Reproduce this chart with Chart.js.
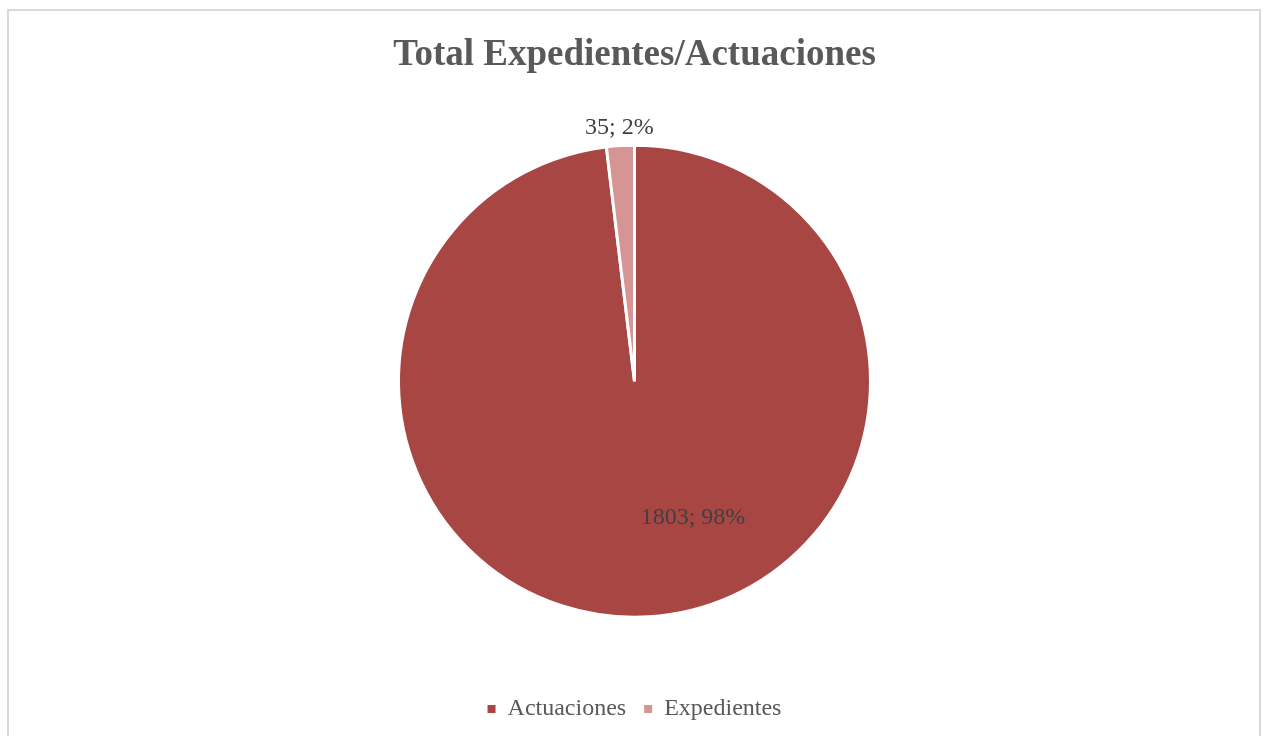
<!DOCTYPE html>
<html>
<head>
<meta charset="utf-8">
<script src="https://cdn.jsdelivr.net/npm/chart.js@4/dist/chart.umd.min.js"></script>
<style>
  html, body { margin: 0; padding: 0; background: #ffffff; overflow: hidden; }
  #frame { position: absolute; left: 7px; top: 9px; width: 1250px; height: 800px;
           border: 2px solid #D9D9D9; border-bottom: none; }
  #c { position: absolute; left: 0; top: 0; }
</style>
</head>
<body>
<div id="frame"></div>
<canvas id="c" width="1269" height="736"></canvas>
<script>
const categories = ["Actuaciones", "Expedientes"];
const values = [1803, 35];
const percentLabels = ["98%", "2%"];
const sliceColors = ["#A84644", "#D49594"];
const titleText = "Total Expedientes/Actuaciones";

const labelPlugin = {
  id: "sliceLabels",
  afterDatasetsDraw(chart) {
    const ctx = chart.ctx;
    const meta = chart.getDatasetMeta(0);
    ctx.save();
    ctx.font = "24px 'Liberation Serif', 'Times New Roman', serif";
    ctx.fillStyle = "#404040";
    ctx.textBaseline = "middle";
    meta.data.forEach((arc, i) => {
      const p = arc.getProps(["x", "y", "startAngle", "endAngle", "outerRadius"], true);
      const mid = (p.startAngle + p.endAngle) / 2;
      const text = values[i] + "; " + percentLabels[i];
      const frac = (p.endAngle - p.startAngle) / (2 * Math.PI);
      if (frac > 0.5) {
        const r = p.outerRadius * 0.58;
        ctx.textAlign = "left";
        ctx.fillText(text, p.x + r * Math.cos(mid) - 2, p.y + r * Math.sin(mid));
      } else {
        const r = p.outerRadius + 18;
        ctx.textAlign = "center";
        ctx.fillText(text, p.x + r * Math.cos(mid), p.y + r * Math.sin(mid));
      }
    });
    ctx.restore();
  }
};

new Chart(document.getElementById("c"), {
  type: "pie",
  data: {
    labels: categories,
    datasets: [{
      data: values,
      backgroundColor: sliceColors,
      borderColor: "#ffffff",
      borderWidth: 3,
      radius: 236
    }]
  },
  options: {
    responsive: false,
    animation: false,
    devicePixelRatio: 1,
    layout: { padding: { top: 0, bottom: 5, left: 0, right: 0 } },
    plugins: {
      title: {
        display: true,
        text: titleText,
        color: "#595959",
        font: { family: "'Liberation Serif', 'Times New Roman', serif", size: 37, weight: "bold" },
        padding: { top: 33, bottom: 6 }
      },
      legend: {
        display: true,
        position: "bottom",
        labels: {
          color: "#595959",
          font: { family: "'Liberation Serif', 'Times New Roman', serif", size: 24 },
          boxWidth: 8,
          boxHeight: 8,
          padding: 18,
          generateLabels(chart) {
            return Chart.overrides.pie.plugins.legend.labels.generateLabels(chart)
              .map(item => Object.assign(item, { lineWidth: 0, strokeStyle: item.fillStyle }));
          }
        }
      },
      tooltip: { enabled: false }
    }
  },
  plugins: [labelPlugin]
});
</script>
</body>
</html>
